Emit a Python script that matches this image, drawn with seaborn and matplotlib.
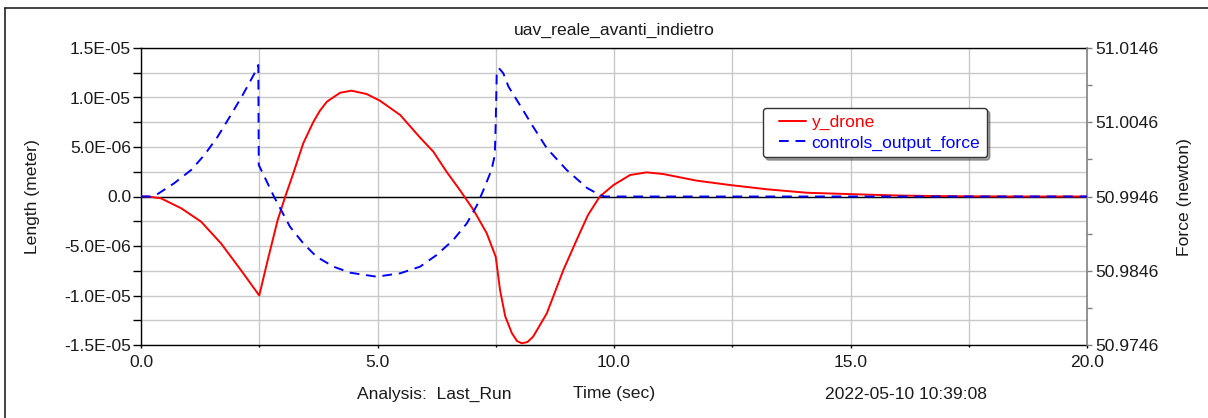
import numpy as np
import pandas as pd
import matplotlib
matplotlib.use("Agg")
import matplotlib.pyplot as plt
import seaborn as sns
from matplotlib.lines import Line2D
from matplotlib.legend_handler import HandlerLine2D

# ---- data -------------------------------------------------------------
time_drone = [0.0, 0.14, 0.42, 0.85, 1.27, 1.69, 2.11, 2.5, 2.67, 2.89,
              3.05, 3.22, 3.43, 3.64, 3.78, 3.93, 4.21, 4.45, 4.77, 5.05,
              5.48, 5.9, 6.18, 6.46, 6.74, 7.03, 7.31, 7.5, 7.59, 7.7, 7.84,
              7.95, 8.05, 8.17, 8.29, 8.58, 8.93, 9.21, 9.45, 9.7, 9.99,
              10.34, 10.69, 11.04, 11.75, 12.45, 13.23, 14.07, 15.13, 16.0,
              16.7, 17.5, 18.5, 20.0]
y_drone = [0.0, 0.0, -0.18e-6, -1.19e-6, -2.54e-6, -4.73e-6, -7.42e-6,
           -10.0e-6, -6.6e-6, -2.37e-6, 0.0, 2.34e-6, 5.37e-6, 7.5e-6,
           8.65e-6, 9.58e-6, 10.48e-6, 10.69e-6, 10.35e-6, 9.68e-6, 8.23e-6,
           5.95e-6, 4.53e-6, 2.5e-6, 0.66e-6, -1.36e-6, -3.72e-6, -6.1e-6,
           -9.44e-6, -12.1e-6, -13.8e-6, -14.6e-6, -14.83e-6, -14.7e-6,
           -14.16e-6, -11.8e-6, -7.42e-6, -4.39e-6, -1.87e-6, 0.0, 1.16e-6,
           2.17e-6, 2.44e-6, 2.27e-6, 1.6e-6, 1.16e-6, 0.73e-6, 0.38e-6,
           0.22e-6, 0.1e-6, 0.05e-6, 0.02e-6, 0.0, 0.0]

time_force = [0.0, 0.2, 0.32, 0.7, 1.06, 1.34, 1.62, 1.9, 2.15, 2.4, 2.48,
              2.49, 2.61, 2.81, 3.15, 3.43, 3.71, 4.07, 4.42, 4.98, 5.48,
              5.9, 6.25, 6.6, 6.89, 7.1, 7.24, 7.41, 7.48, 7.5, 7.52, 7.57,
              7.66, 7.77, 8.01, 8.29, 8.58, 9.0, 9.43, 9.7, 9.8, 20.0]
controls_output_force = [50.9946, 50.9946, 50.9948, 50.99638, 50.99817,
                         51.00019, 51.00265, 51.00558, 51.00827, 51.01119,
                         51.01231, 50.99884, 50.99727, 50.9946, 50.99053,
                         50.9883, 50.98649, 50.98515, 50.98434, 50.9838,
                         50.98426, 50.98515, 50.98672, 50.98874, 50.99099,
                         50.99339, 50.99548, 50.99817, 51.00019, 51.00467,
                         51.01096, 51.01187, 51.01119, 51.00939, 51.00692,
                         51.004, 51.00109, 50.99817, 50.99575, 50.9948,
                         50.9946, 50.9946]

x_ticks = [0.0, 5.0, 10.0, 15.0, 20.0]
x_tick_labels = ["0.0", "5.0", "10.0", "15.0", "20.0"]
length_ticks = [1.5e-5, 1.0e-5, 5.0e-6, 0.0, -5.0e-6, -1.0e-5, -1.5e-5]
length_tick_labels = ["1.5E-05", "1.0E-05", "5.0E-06", "0.0",
                      "-5.0E-06", "-1.0E-05", "-1.5E-05"]
force_ticks = [51.0146, 51.0046, 50.9946, 50.9846, 50.9746]
force_tick_labels = ["51.0146", "51.0046", "50.9946", "50.9846", "50.9746"]

# ---- style ------------------------------------------------------------
sns.set_theme(style="white")
plt.rcParams["font.family"] = ["Liberation Sans", "DejaVu Sans"]
FS = 12.6
RED = "#ff0000"
BLUE = "#0000ff"
GRID = "#c8c8c8"
TEXT = "#1a1a1a"

W, H = 1208, 418
fig = plt.figure(figsize=(W / 100, H / 100), dpi=100)
fig.patch.set_facecolor("white")
ax = fig.add_axes([141 / W, (H - 345) / H, 946 / W, 297 / H])
ax2 = ax.twinx()

df_drone = pd.DataFrame({"t": time_drone, "y_drone": y_drone})
df_force = pd.DataFrame({"t": time_force,
                         "controls_output_force": controls_output_force})

sns.lineplot(data=df_drone, x="t", y="y_drone", ax=ax, color=RED, lw=1.4,
             estimator=None, sort=False, legend=False, label="y_drone",
             zorder=3, solid_joinstyle="round")
sns.lineplot(data=df_force, x="t", y="controls_output_force", ax=ax2,
             color=BLUE, lw=1.4, estimator=None, sort=False, legend=False,
             label="controls_output_force", zorder=3)
ax2.lines[0].set_dashes((5, 3.5))

# ---- axes limits, ticks, grid -----------------------------------------
ax.set_xlim(0, 20)
ax.set_ylim(-1.5e-5, 1.5e-5)
ax2.set_ylim(50.9746, 51.0146)

ax.set_xticks(x_ticks, labels=x_tick_labels)
ax.set_xticks(np.arange(2.5, 20, 5.0), minor=True)
ax.set_yticks(length_ticks, labels=length_tick_labels)
ax.set_yticks(np.arange(-1.25e-5, 1.5e-5, 5e-6), minor=True)
ax2.set_yticks(force_ticks, labels=force_tick_labels)
ax2.set_yticks(np.arange(50.9796, 51.0146, 0.01), minor=True)

ax.grid(True, which="both", color=GRID, lw=1.0, zorder=0)
ax.set_axisbelow(True)
ax.axhline(0.0, color="black", lw=1.0, zorder=2)

ax.tick_params(axis="x", which="major", direction="out", length=2.5,
               width=1, color="black", labelsize=FS, pad=5, bottom=True)
ax.tick_params(axis="x", which="minor", direction="out", length=1.2,
               width=1, color="black", bottom=True)
ax.tick_params(axis="y", which="both", direction="out", length=6,
               width=1, color="black", labelsize=FS, pad=1.2, left=True)
ax2.tick_params(axis="y", which="both", direction="out", length=3.6,
                width=1, color="#808080", labelsize=FS, pad=2.2, right=True)
for t in ax.get_xticklabels() + ax.get_yticklabels() + ax2.get_yticklabels():
    t.set_color(TEXT)

for name in ("top", "bottom", "left"):
    ax.spines[name].set_color("black")
    ax.spines[name].set_linewidth(1.0)
    ax2.spines[name].set_visible(False)
ax.spines["right"].set_visible(False)
ax2.spines["right"].set_color("#808080")
ax2.spines["right"].set_linewidth(1.2)

# ---- labels -----------------------------------------------------------
ax.set_xlabel("Time (sec)", fontsize=FS, color=TEXT)
ax.xaxis.set_label_coords(0.5, -0.138)
ax.set_ylabel("Length (meter)", fontsize=FS, color=TEXT)
ax.yaxis.set_label_coords(-0.107, 0.5)
ax2.set_ylabel("Force (newton)", fontsize=FS, color=TEXT)
ax2.yaxis.set_label_coords(1.0951, 0.5)

fig.text(614 / W, 1 - 34.5 / H, "uav_reale_avanti_indietro", fontsize=FS,
         ha="center", va="baseline", color=TEXT)
fig.text(357 / W, 1 - 399 / H, "Analysis:  Last_Run", fontsize=FS,
         ha="left", va="baseline", color=TEXT)
fig.text(825 / W, 1 - 399 / H, "2022-05-10 10:39:08", fontsize=FS,
         ha="left", va="baseline", color=TEXT)

# outer frame (top and left edges of the plot window)
fig.add_artist(Line2D([5 / W, 1.0], [1 - 8 / H, 1 - 8 / H],
                      transform=fig.transFigure, color="#222222", lw=1.2))
fig.add_artist(Line2D([5 / W, 5 / W], [0.0, 1 - 8 / H],
                      transform=fig.transFigure, color="#222222", lw=1.2))


# ---- legend -----------------------------------------------------------
class InsetLineHandler(HandlerLine2D):
    """Draws the legend sample line with a little blank space on its left."""

    def get_xdata(self, legend, xdescent, ydescent, width, height, fontsize):
        x0 = -xdescent + 0.55 * fontsize
        x1 = -xdescent + width
        return np.array([x0, x1]), np.array([(x0 + x1) / 2])


h1, l1 = ax.get_legend_handles_labels()
h2, l2 = ax2.get_legend_handles_labels()
leg = ax2.legend(h1 + h2, l1 + l2, loc="upper left",
                 bbox_to_anchor=(0.6575, 0.798), borderaxespad=0,
                 fontsize=FS, frameon=True, fancybox=True, shadow=True,
                 framealpha=1, borderpad=0.38, labelspacing=0.3,
                 handlelength=2.1, handletextpad=0.3,
                 handler_map={Line2D: InsetLineHandler()})
leg.get_frame().set_edgecolor("#333333")
leg.get_frame().set_linewidth(1.0)
for txt, ln in zip(leg.get_texts(), leg.get_lines()):
    txt.set_color(ln.get_color())

fig.savefig("out.png", dpi=100, facecolor="white")
